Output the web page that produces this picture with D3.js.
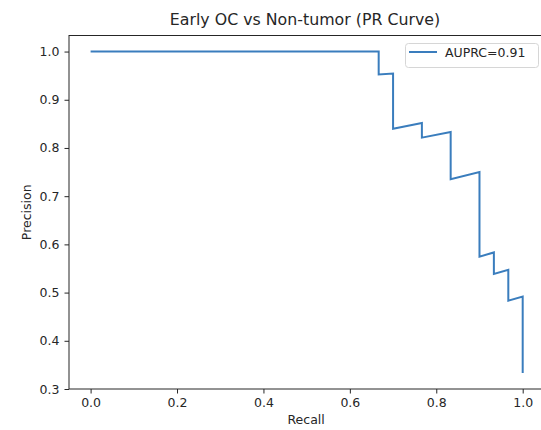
<!DOCTYPE html>
<html><head><meta charset="utf-8">
<script src="https://cdn.jsdelivr.net/npm/d3@7"></script>
<style>body{margin:0;background:#fff;} text{font-family:"DejaVu Sans",sans-serif;fill:#262626;}</style>
</head><body>
<svg id="chart" width="541" height="430"></svg>
<script>
const recall = [0.0, 0.6667, 0.6667, 0.7, 0.7, 0.7667, 0.7667, 0.8333, 0.8333, 0.9, 0.9, 0.9333, 0.9333, 0.9667, 0.9667, 1.0, 1.0];
const precision = [1.0, 1.0, 0.9524, 0.9545, 0.84, 0.8519, 0.8214, 0.8333, 0.7353, 0.75, 0.5745, 0.5833, 0.5385, 0.5472, 0.4833, 0.4918, 0.3333];
const xTicks = [0.0, 0.2, 0.4, 0.6, 0.8, 1.0];
const yTicks = [0.3, 0.4, 0.5, 0.6, 0.7, 0.8, 0.9, 1.0];
const title = "Early OC vs Non-tumor (PR Curve)";
const legendLabel = "AUPRC=0.91";

const svg = d3.select("#chart");
const L = 69, R = 544.3, T = 35.5, B = 389;
const x = d3.scaleLinear().domain([-0.05, 1.05]).range([L, R]);
const y = d3.scaleLinear().domain([0.3, 1.0333]).range([B, T]);

const xAxis = svg.append("g").attr("transform", `translate(0,${B})`)
  .call(d3.axisBottom(x).tickValues(xTicks).tickFormat(d3.format(".1f")).tickSize(4.5).tickPadding(5));
const yAxis = svg.append("g").attr("transform", `translate(${L},0)`)
  .call(d3.axisLeft(y).tickValues(yTicks).tickFormat(d3.format(".1f")).tickSize(4.5).tickPadding(5));
[xAxis, yAxis].forEach(a => {
  a.select(".domain").remove();
  a.selectAll("line").attr("stroke", "#262626").attr("stroke-width", 1);
  a.selectAll("text").style("font-size", "12.5px").attr("fill", "#262626");
});

// frame
svg.append("rect").attr("x", L).attr("y", T).attr("width", R - L).attr("height", B - T)
  .attr("fill", "none").attr("stroke", "#262626").attr("stroke-width", 1);

const pts = recall.map((r, i) => [r, precision[i]]);
svg.append("path").datum(pts)
  .attr("d", d3.line().x(d => x(d[0])).y(d => y(d[1])))
  .attr("fill", "none").attr("stroke", "#3a7dbd").attr("stroke-width", 2);

svg.append("text").attr("x", 305).attr("y", 25).attr("text-anchor", "middle")
  .style("font-size", "15.8px").text(title);
svg.append("text").attr("x", (L + R) / 2 - 0.5).attr("y", 424).attr("text-anchor", "middle")
  .style("font-size", "12.5px").text("Recall");
svg.append("text").attr("transform", `translate(31,${(T + B) / 2}) rotate(-90)`).attr("text-anchor", "middle")
  .style("font-size", "12.5px").text("Precision");

// legend
const lg = svg.append("g");
lg.append("rect").attr("x", 405.5).attr("y", 43.5).attr("width", 133).attr("height", 24).attr("rx", 3)
  .attr("fill", "#fff").attr("fill-opacity", 0.8).attr("stroke", "#d6d6d6");
lg.append("line").attr("x1", 409).attr("x2", 437).attr("y1", 52).attr("y2", 52)
  .attr("stroke", "#3a7dbd").attr("stroke-width", 2);
lg.append("text").attr("x", 445).attr("y", 56.5).style("font-size", "12.5px").text(legendLabel);
</script>
</body></html>
